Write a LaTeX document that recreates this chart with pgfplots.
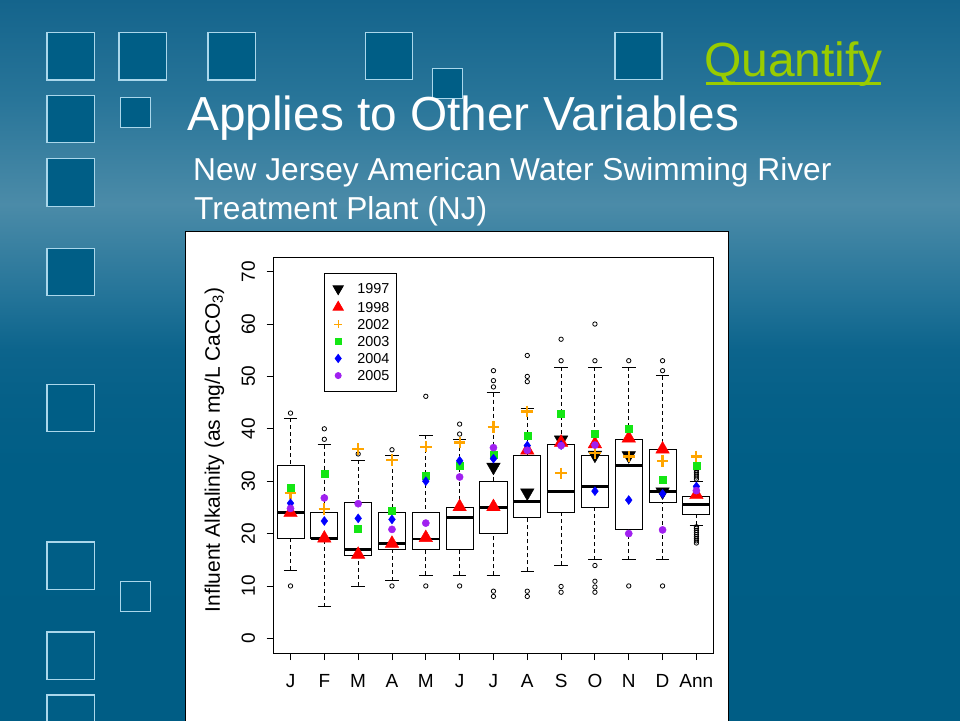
\documentclass[border=0pt]{standalone}
\usepackage{fontspec}
\setmainfont{Liberation Sans}
\usepackage{pgfplots}
\pgfplotsset{compat=1.18}
\usepgfplotslibrary{statistics}

% slide background, top to bottom
\definecolor{bg0}{RGB}{20,100,140}
\definecolor{bg1}{RGB}{40,117,153}
\definecolor{bg2}{RGB}{75,139,168}
\definecolor{bg3}{RGB}{34,115,152}
\definecolor{bg4}{RGB}{12,100,140}
\definecolor{bg5}{RGB}{5,96,136}
\definecolor{bg6}{RGB}{0,94,134}
\definecolor{bg7}{RGB}{0,93,133}
\definecolor{sqfill}{RGB}{0,94,134}
\definecolor{sqedge}{RGB}{170,215,235}
\definecolor{quant}{RGB}{153,204,0}
\definecolor{rorange}{RGB}{255,165,0}
\definecolor{rgreen}{RGB}{20,230,20}
\definecolor{rblue}{RGB}{0,0,255}
\definecolor{rpurple}{RGB}{160,32,240}

\pgfdeclareverticalshading{slidebg}{100bp}{
  color(0bp)=(bg7); color(25bp)=(bg7); color(42.4bp)=(bg6);
  color(47.2bp)=(bg5); color(50.7bp)=(bg4); color(54.2bp)=(bg3);
  color(60.8bp)=(bg2); color(68.1bp)=(bg1); color(75bp)=(bg0);
  color(100bp)=(bg0)}

% decorative square, top-left corner in pixels from the top
\newcommand{\sq}[3]{\draw[sqedge, fill=sqfill, line width=1.3pt] (#1,720-#2) rectangle ++(#3,-#3);}

\pgfplotsset{
  rbox/.style={forget plot, black, fill=white, line width=0.9pt,
    boxplot/draw direction=y,
    boxplot/box extend=0.8,
    boxplot/whisker extend=0.4,
    boxplot/every median/.style={line width=2.6pt},
    boxplot/draw/lower whisker/.code={
      \draw[dash pattern=on 4pt off 3pt]
        (boxplot box cs:\pgfplotsboxplotvalue{lower whisker},0.5) --
        (boxplot box cs:\pgfplotsboxplotvalue{lower quartile},0.5);
      \draw (boxplot whisker cs:\pgfplotsboxplotvalue{lower whisker},0) --
        (boxplot whisker cs:\pgfplotsboxplotvalue{lower whisker},1);
    },
    boxplot/draw/upper whisker/.code={
      \draw[dash pattern=on 4pt off 3pt]
        (boxplot box cs:\pgfplotsboxplotvalue{upper whisker},0.5) --
        (boxplot box cs:\pgfplotsboxplotvalue{upper quartile},0.5);
      \draw (boxplot whisker cs:\pgfplotsboxplotvalue{upper whisker},0) --
        (boxplot whisker cs:\pgfplotsboxplotvalue{upper whisker},1);
    },
  },
}
\newcommand{\rbox}[6]{\addplot[rbox, boxplot prepared={draw position=#1,
  lower whisker=#2, lower quartile=#3, median=#4, upper quartile=#5,
  upper whisker=#6}] coordinates {};}

\begin{document}
\begin{tikzpicture}[x=1pt, y=1pt]
\useasboundingbox (0,0) rectangle (960,720);
\clip (0,0) rectangle (960,720);
\shade[shading=slidebg] (0,0) rectangle (960,720);

\sq{47}{32.5}{47.5}
\sq{119}{32.5}{47.5}
\sq{208}{32.5}{47.5}
\sq{365.3}{32.5}{47}
\sq{615}{32.5}{47}
\sq{432.3}{68.3}{30}
\sq{47}{95.2}{47.5}
\sq{120.3}{97.7}{30}
\sq{47}{158.8}{47.5}
\sq{47}{248.3}{47.5}
\sq{47}{384.3}{47.5}
\sq{47}{542}{47.5}
\sq{120.3}{581.5}{30}
\sq{47}{632}{47.5}
\sq{47}{695}{47.5}

\node[anchor=base west, inner sep=0pt, text=quant, font=\fontsize{48}{52}\selectfont] at (704,643) {Quantify};
\draw[quant, line width=3pt] (706,636) -- (881,636);
\node[anchor=base west, inner sep=0pt, text=white, font=\fontsize{47.8}{56}\selectfont] at (187,589) {Applies to Other Variables};
\node[anchor=base west, inner sep=0pt, text=white, font=\fontsize{31.7}{36}\selectfont] at (193,539) {New Jersey American Water Swimming River};
\node[anchor=base west, inner sep=0pt, text=white, font=\fontsize{31.7}{36}\selectfont] at (194,500) {Treatment Plant (NJ)};

\draw[black, fill=white, line width=1pt] (185,488.5) rectangle (728.5,-5);

\begin{axis}[
    at={(273.6pt,67pt)}, anchor=south west,
    scale only axis, width=439.7pt, height=396pt,
    xmin=0.5, xmax=13.5, ymin=-2.8, ymax=72.8,
    xtick={1,...,13},
    xticklabels={J,F,M,A,M,J,J,A,S,O,N,D,Ann},
    ytick={0,10,...,70},
    tick pos=left, tick align=outside,
    major tick length=7pt,
    tick style={black, line width=0.9pt},
    axis line style={black, line width=0.9pt},
    /pgf/number format/assume math mode=true,
    tick label style={font=\fontsize{19}{19}\selectfont},
    yticklabel style={xshift=-8pt, rotate=90, anchor=south},
    xticklabel style={yshift=-11pt},
    ylabel={Influent Alkalinity (as mg/L CaCO\textsubscript{3})},
    ylabel style={font=\fontsize{21}{21}\selectfont,
      at={(axis description cs:-0.1224,0.513)}, anchor=base},
    legend style={at={(0.1153,0.9604)}, anchor=north west,
      draw=black, line width=0.9pt,
      font=\fontsize{14.4}{16}\selectfont,
      inner xsep=7pt, inner ysep=10.5pt, row sep=6.8pt, column sep=12.7pt,
      nodes={inner sep=0pt, text height=10.3pt, text depth=0pt}},
    legend cell align=left,
    legend image code/.code={\path (0pt,0pt) (12pt,0pt);
      \draw[#1] plot coordinates {(6pt,0pt)};},
]

% boxes: position, lower whisker, lower quartile, median, upper quartile, upper whisker
\rbox{1}{13}{19}{24}{33}{42}
\rbox{2}{6}{19}{19.1}{24}{37}
\rbox{3}{10}{15.9}{17}{26}{34}
\rbox{4}{11}{17}{18.1}{24}{35}
\rbox{5}{12}{17}{19}{24}{38.8}
\rbox{6}{12}{17}{23.1}{24.9}{37.9}
\rbox{7}{12}{20}{25}{30}{46.9}
\rbox{8}{12.8}{23}{26.1}{35}{43.8}
\rbox{9}{14}{24}{28}{37}{51.8}
\rbox{10}{15}{24.9}{29}{35}{51.8}
\rbox{11}{15}{20.8}{33}{37.9}{51.8}
\rbox{12}{15}{26}{28}{36}{50.1}
\rbox{13}{21.6}{23.7}{25.5}{27.1}{29.9}

% outliers
\addplot[forget plot, only marks, mark=o, mark size=2.2pt,
  mark options={black, line width=0.8pt}] coordinates {
  (1,43) (1,10)
  (2,40) (2,38)
  (3,35.2)
  (4,36) (4,10)
  (5,46.2) (5,10)
  (6,40.9) (6,39) (6,10)
  (7,51.1) (7,49.2) (7,48) (7,9) (7,8)
  (8,54) (8,50) (8,49) (8,9) (8,8)
  (9,57.1) (9,53) (9,9.9) (9,8.8)
  (10,60) (10,53) (10,13.9) (10,10.9) (10,9.8) (10,8.8)
  (11,53) (11,10)
  (12,53) (12,51.1) (12,10)
  (13,30.4) (13,30.8) (13,31.2) (13,31.6) (13,32) (13,32.4) (13,32.8)
  (13,18.2) (13,18.6) (13,19) (13,19.4) (13,19.8) (13,20.2) (13,20.6) (13,21) (13,21.3)
};

\addplot[only marks, mark=triangle*, mark size=7.8pt,
  mark options={rotate=180, fill=black, draw=black},
  legend image post style={mark size=5.8pt}] coordinates {
  (7,32.7) (8,27.8) (9,37.9) (10,35.0) (11,34.9) (12,28.0)
};
\addlegendentry{1997}
\addplot[only marks, mark=triangle*, mark size=7.8pt,
  mark options={fill=red, draw=red},
  legend image post style={mark size=5.8pt}] coordinates {
  (1,24.0) (2,19.1) (3,16.0) (4,18.1) (5,19.2) (6,25.1) (7,25.1)
  (8,35.9) (9,37.4) (10,37.1) (11,38.2) (12,36.1) (13,27.4)
};
\addlegendentry{1998}
\addplot[only marks, mark=+, mark size=5.8pt,
  mark options={draw=rorange, line width=2.2pt},
  legend image post style={mark size=4pt, mark options={draw=rorange, line width=0.9pt}}] coordinates {
  (1,27.8) (2,24.7) (3,36.1) (4,34.0) (5,36.6) (6,37.4) (7,40.4)
  (8,43.3) (9,31.5) (10,35.4) (11,34.7) (12,33.9) (13,34.7)
};
\addlegendentry{2002}
\addplot[only marks, mark=square*, mark size=3.5pt,
  mark options={fill=rgreen, draw=rgreen},
  legend image post style={mark size=3pt}] coordinates {
  (1,28.8) (2,31.4) (3,20.9) (4,24.3) (5,31.0) (6,33.0) (7,35.0)
  (8,38.7) (9,42.9) (10,39.0) (11,40.0) (12,30.2) (13,32.9)
};
\addlegendentry{2003}
\addplot[only marks, mark=diamond*, mark size=4.5pt,
  mark options={fill=rblue, draw=rblue},
  legend image post style={mark size=4pt}] coordinates {
  (1,25.8) (2,22.4) (3,22.9) (4,22.7) (5,30.0) (6,33.9) (7,34.3)
  (8,36.8) (9,36.9) (10,28.1) (11,26.4) (12,27.6) (13,29.0)
};
\addlegendentry{2004}
\addplot[only marks, mark=*, mark size=3.6pt,
  mark options={fill=rpurple, draw=rpurple},
  legend image post style={mark size=3pt}] coordinates {
  (1,24.8) (2,26.8) (3,25.7) (4,20.8) (5,22.0) (6,30.8) (7,36.4)
  (8,35.9) (9,36.8) (10,36.9) (11,20.0) (12,20.7) (13,28.2)
};
\addlegendentry{2005}

\end{axis}
\end{tikzpicture}
\end{document}
